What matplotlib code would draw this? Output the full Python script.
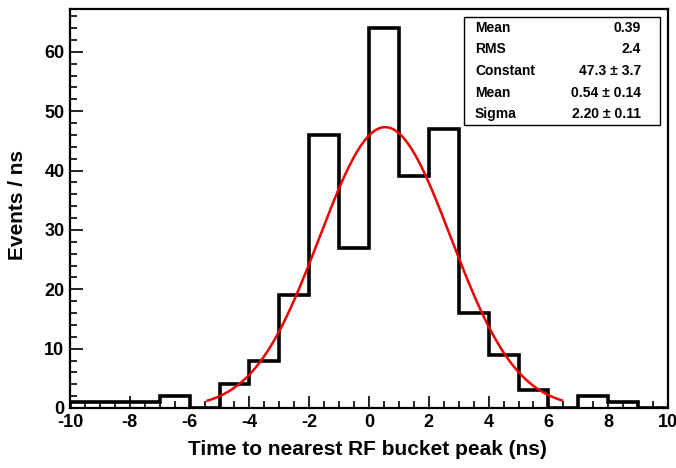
import numpy as np
import matplotlib
matplotlib.use("Agg")
import matplotlib.pyplot as plt
from matplotlib.ticker import MultipleLocator

# per-ns histogram of time to nearest RF bucket peak
bin_edges = np.arange(-10, 11, 1)
counts = [1, 1, 1, 2, 0, 4, 8, 19, 46, 27, 64, 39, 47, 16, 9, 3, 0, 2, 1, 0]

# gaussian fit result
fit_const, fit_mean, fit_sigma = 47.3, 0.54, 2.20
fit_range = (-5.4, 6.45)

stat_names = ["Mean", "RMS", "Constant", "Mean", "Sigma"]
stat_values = ["0.39", "2.4", "47.3 \u00b1 3.7", "0.54 \u00b1 0.14", "2.20 \u00b1 0.11"]

plt.rcParams['font.family'] = ['Liberation Sans', 'DejaVu Sans']
plt.rcParams['font.weight'] = 'bold'
plt.rcParams['axes.unicode_minus'] = False

fig = plt.figure(figsize=(6.76, 4.68), dpi=100)
ax = fig.add_axes([70 / 676, 60 / 468, 598 / 676, 399 / 468])

ax.stairs(counts, bin_edges, color='black', linewidth=2.6, baseline=0)

xf = np.linspace(fit_range[0], fit_range[1], 300)
yf = fit_const * np.exp(-0.5 * ((xf - fit_mean) / fit_sigma) ** 2)
ax.plot(xf, yf, color='#ee0000', linewidth=1.8)

ax.set_xlim(-10, 10)
ax.set_ylim(0, 67.2)
ax.xaxis.set_major_locator(MultipleLocator(2))
ax.xaxis.set_minor_locator(MultipleLocator(0.5))
ax.yaxis.set_major_locator(MultipleLocator(10))
ax.yaxis.set_minor_locator(MultipleLocator(2))
ax.tick_params(which='both', direction='in', top=False, right=False, width=1.2,
               labelsize=13, pad=4)
ax.tick_params(which='major', length=9)
ax.tick_params(which='minor', length=5)
for lab in ax.get_xticklabels() + ax.get_yticklabels():
    lab.set_fontweight('bold')
for sp in ax.spines.values():
    sp.set_linewidth(1.6)

ax.set_xlabel('Time to nearest RF bucket peak (ns)', fontsize=15, fontweight='bold')
ax.set_ylabel('Events / ns', fontsize=15, fontweight='bold')
ax.yaxis.set_label_coords(-0.072, 0.509)
ax.xaxis.set_label_coords(0.498, -0.08)

# stats box
bx0, bx1 = (464 - 70) / 598, (660 - 70) / 598
by0, by1 = (408 - 125) / 399, (408 - 17) / 399
ax.add_patch(plt.Rectangle((bx0, by0), bx1 - bx0, by1 - by0, transform=ax.transAxes,
                           facecolor='white', edgecolor='black', linewidth=1.0, zorder=5))
row_h = (by1 - by0) / len(stat_names)
for i, (name, val) in enumerate(zip(stat_names, stat_values)):
    yy = by1 - (i + 0.5) * row_h
    ax.text((475 - 70) / 598, yy, name, transform=ax.transAxes, fontsize=10,
            fontweight='bold', va='center', ha='left', zorder=6)
    ax.text((641 - 70) / 598, yy, val, transform=ax.transAxes, fontsize=10,
            fontweight='bold', va='center', ha='right', zorder=6)

fig.savefig('out.png', dpi=100)
